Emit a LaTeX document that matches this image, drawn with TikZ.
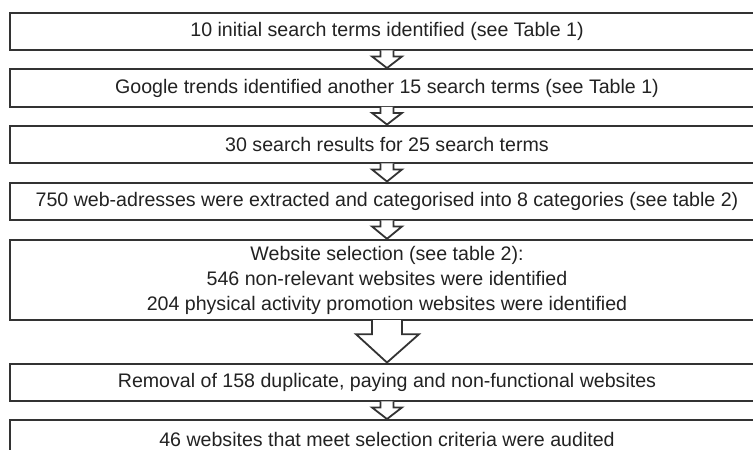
\documentclass[tikz,border=0pt]{standalone}
\usepackage{fontspec}
\setmainfont{Liberation Sans}
\usetikzlibrary{calc}
\definecolor{boxline}{HTML}{333333}
\definecolor{boxtext}{HTML}{222222}
\tikzset{
    stage/.style={rectangle, draw=boxline, line width=2.4pt, fill=white, text=boxtext,
        minimum width=754pt, minimum height=37.5pt, inner sep=0pt, align=center,
        font=\fontsize{19.6}{25}\selectfont},
    hollow/.style={draw=boxline, line width=1.8pt, fill=white, line join=miter}
}
\begin{document}
\begin{tikzpicture}[x=1pt,y=-1pt]
    \useasboundingbox (0,0) rectangle (753,450);
    \clip (0,0) rectangle (753,450);
    \node(terms) [stage] at (387,31.5) {10 initial search terms identified (see Table 1)};
    \node(trends) [stage] at (387,88) {Google trends identified another 15 search terms (see Table 1)};
    \node(results) [stage] at (387,144.5) {30 search results for 25 search terms};
    \node(adresses) [stage] at (387,201.5) {750 web-adresses were extracted and categorised into 8 categories (see table 2)};
    \node(selection) [stage, minimum height=80pt] at (387,280) {Website selection (see table 2):\\546 non-relevant websites were identified\\204 physical activity promotion websites were identified};
    \node(removal) [stage] at (387,382.5) {Removal of 158 duplicate, paying and non-functional websites};
    \node(audited) [stage] at (387,439) {46 websites that meet selection criteria were audited};
    % small hollow arrows
    \foreach \a/\b in {terms/trends,trends/results,results/adresses,adresses/selection,removal/audited}{
        \draw[hollow] ($(\a.south)+(-6.5,-1.2)$) -- ($(\a.south)+(-6.5,5)$) -- ($(\a.south)+(-15,5)$)
            -- (\b.north) -- ($(\a.south)+(15,5)$) -- ($(\a.south)+(6.5,5)$) -- ($(\a.south)+(6.5,-1.2)$);
    }
    % big arrow
    \draw[hollow] ($(selection.south)+(-15,-1.2)$) -- ($(selection.south)+(-15,13)$) -- ($(selection.south)+(-31,13)$)
        -- (removal.north) -- ($(selection.south)+(32,13)$) -- ($(selection.south)+(15,13)$) -- ($(selection.south)+(15,-1.2)$);
\end{tikzpicture}
\end{document}
